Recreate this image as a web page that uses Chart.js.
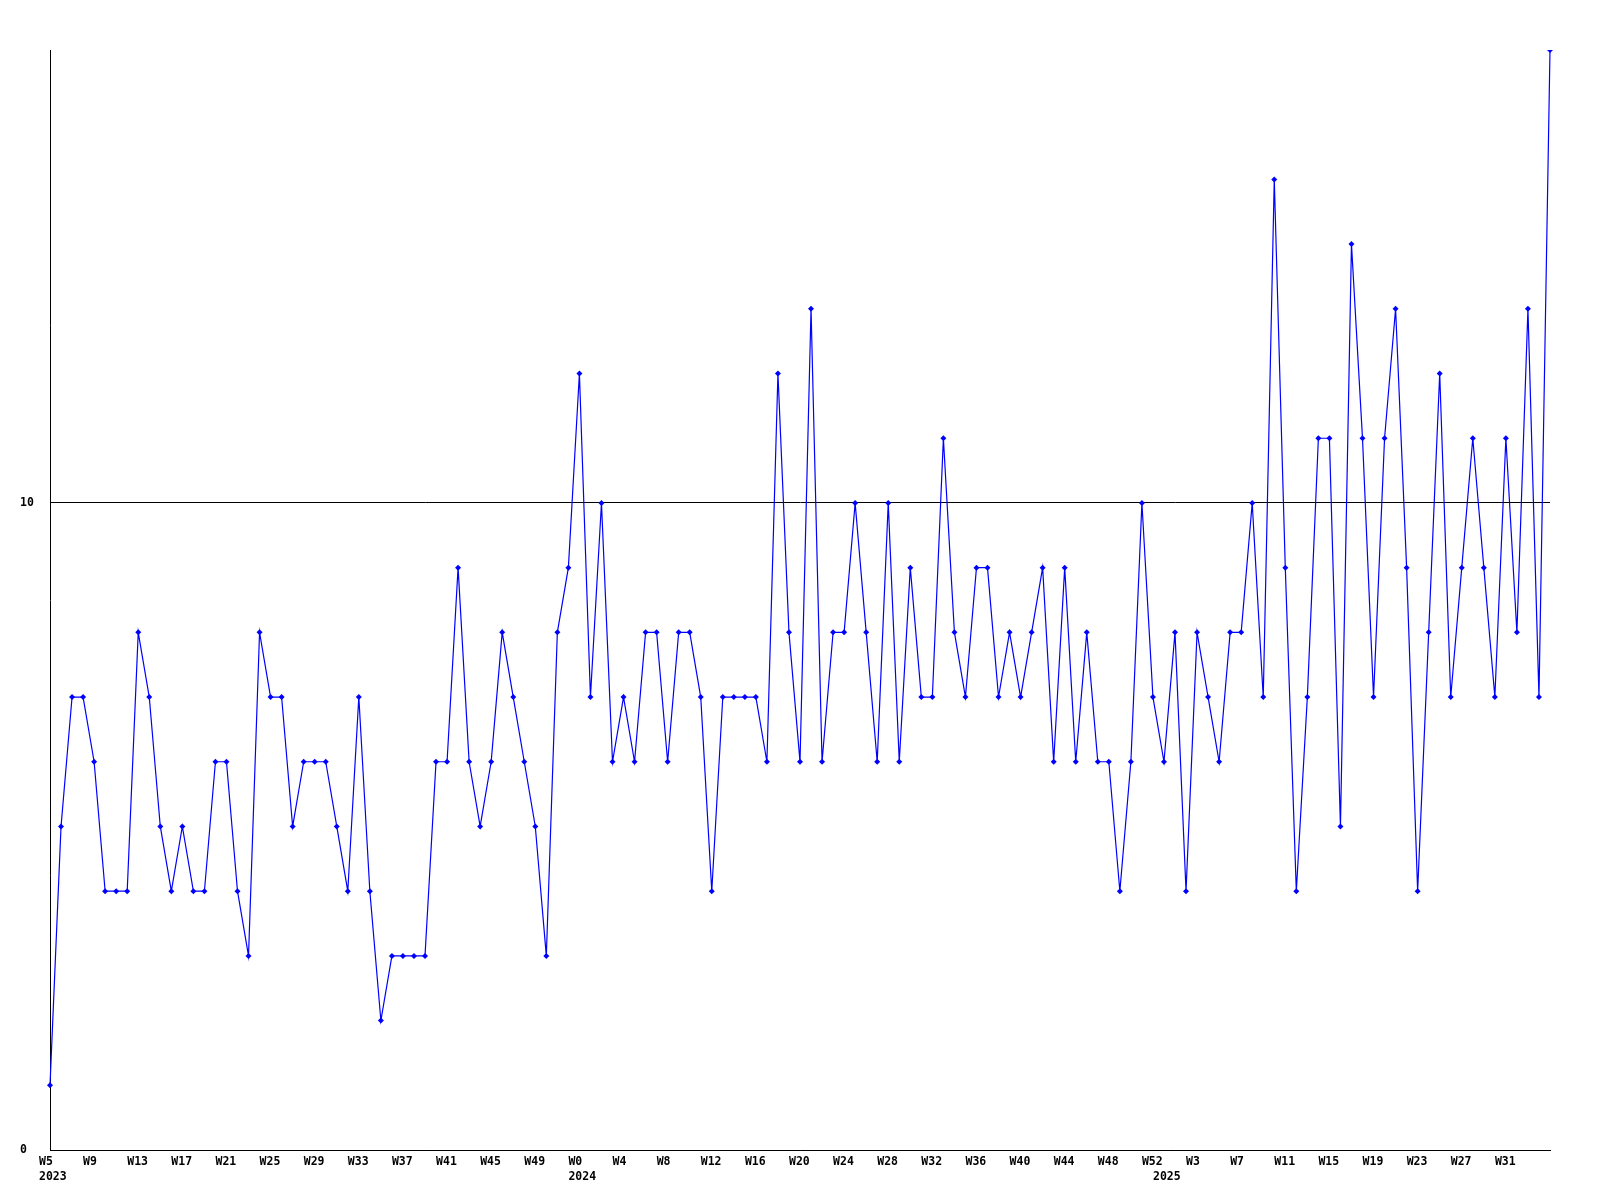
<!DOCTYPE html>
<html>
<head>
<meta charset="utf-8">
<script src="https://cdn.jsdelivr.net/npm/chart.js@4/dist/chart.umd.min.js"></script>
<style>
  body { margin: 0; background: #fff; }
  #weekly { display: block; }
</style>
</head>
<body>
<canvas id="weekly" width="1600" height="1200"></canvas>
<script>
  // weekly counts, one array per year
  const years = [2023, 2024, 2025];
  const firstWeek = [5, 0, 0];
  const counts2023 = [1, 5, 7, 7, 6, 4, 4, 4, 8, 7, 5, 4, 5, 4, 4, 6, 6, 4, 3, 8,
    7, 7, 5, 6, 6, 6, 5, 4, 7, 4, 2, 3, 3, 3, 3, 6, 6, 9, 6, 5,
    6, 8, 7, 6, 5, 3, 8, 9];
  const counts2024 = [12, 7, 10, 6, 7, 6, 8, 8, 6, 8, 8, 7, 4, 7, 7, 7, 7, 6, 12, 8,
    6, 13, 6, 8, 8, 10, 8, 6, 10, 6, 9, 7, 7, 11, 8, 7, 9, 9, 7, 8,
    7, 8, 9, 6, 9, 6, 8, 6, 6, 4, 6, 10, 7];
  const counts2025 = [6, 8, 4, 8, 7, 6, 8, 8, 10, 7, 15, 9, 4, 7, 11, 11, 5, 14, 11, 7,
    11, 13, 9, 4, 8, 12, 7, 9, 11, 9, 7, 11, 8, 13, 7, 17];
  const yTicks = [0, 10];
  const yMax = 17;

  const perYear = [counts2023, counts2024, counts2025];
  const weeks = [];
  const values = [];
  perYear.forEach((arr, y) => {
    arr.forEach((v, i) => {
      weeks.push({ year: years[y], week: firstWeek[y] + i, first: i === 0 });
      values.push(v);
    });
  });

  const tickFont = { family: '"DejaVu Sans Mono", monospace', weight: 'bold', size: 11.5, lineHeight: 1.3 };

  const ctx = document.getElementById('weekly');

  new Chart(ctx, {
    type: 'line',
    data: {
      labels: weeks.map(w => 'W' + w.week + ' ' + w.year),
      datasets: [{
        data: values,
        borderColor: '#0000ff',
        backgroundColor: '#0000ff',
        borderWidth: 1.2,
        tension: 0,
        pointStyle: 'rectRot',
        pointRadius: 3,
        pointBorderWidth: 0,
        pointHoverRadius: 3
      }]
    },
    options: {
      responsive: false,
      animation: false,
      events: [],
      layout: { padding: { top: 50, right: 50, left: 20, bottom: 0 } },
      plugins: { legend: { display: false }, tooltip: { enabled: false } },
      scales: {
        x: {
          type: 'category',
          offset: false,
          grid: { display: false, drawTicks: false },
          border: { color: '#000', width: 1 },
          afterFit: (s) => { s.height = 50; },
          ticks: {
            autoSkip: false,
            maxRotation: 0,
            minRotation: 0,
            align: 'start',
            labelOffset: -11,
            padding: 5,
            color: '#000',
            font: tickFont,
            callback: (value, index) => {
              const w = weeks[index];
              // last week gets no label, it would run past the axis
              const top = index % 4 === 0 && index < weeks.length - 1 ? 'W' + w.week : '';
              if (w.first) return [top, String(w.year)];
              return top;
            }
          }
        },
        y: {
          min: 0,
          max: yMax,
          grid: { color: '#000', lineWidth: 1, drawTicks: false },
          border: { color: '#000', width: 1 },
          afterFit: (s) => { s.width = 30; },
          afterBuildTicks: (s) => { s.ticks = yTicks.map(v => ({ value: v })); },
          ticks: {
            crossAlign: 'far',
            color: '#000',
            font: tickFont
          }
        }
      }
    }
  });
</script>
</body>
</html>
